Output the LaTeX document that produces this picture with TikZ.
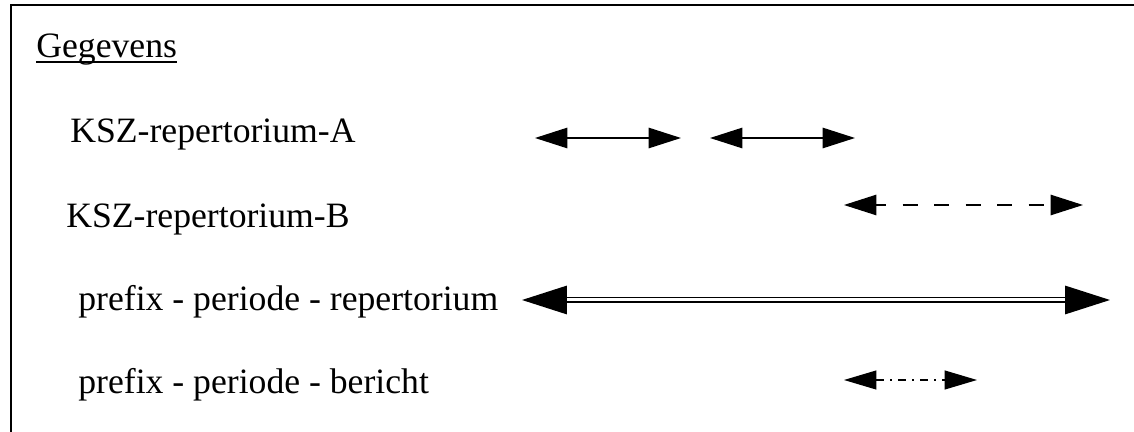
\documentclass[tikz,border=0pt]{standalone}
\usepackage{fontspec}
\setmainfont{Liberation Serif}
\usetikzlibrary{arrows.meta}
\begin{document}
\begin{tikzpicture}[x=0.02cm, y=-0.02cm,
        tekst/.style={anchor=base west, inner sep=0pt, font=\fontsize{20.3}{24}\selectfont},
        pijl/.style={{Triangle[length=0.65cm, width=0.41cm]}-{Triangle[length=0.65cm, width=0.41cm]}, line width=0.03cm},
        grotepijl/.style={{Triangle[length=0.9cm, width=0.57cm]}-{Triangle[length=0.9cm, width=0.57cm]}, line width=0.03cm, double, double distance=0.06cm}]
    \useasboundingbox (0,0) rectangle (1134,432);
    % kader
    \draw[line width=0.045cm] (11,432) -- (11,4.7) -- (1134,4.7);

    \node[tekst] (geg) at (36,58) {Gegevens};
    \draw[line width=0.03cm] ([yshift=-0.08cm]geg.base west) -- ([yshift=-0.08cm]geg.base east);

    \node[tekst] (ksza) at (70,143) {KSZ-repertorium-A};
    \node[tekst] (kszb) at (66,228) {KSZ-repertorium-B};
    \node[tekst] (ppr) at (78,311) {prefix - periode - repertorium};
    \node[tekst] (ppb) at (78,394) {prefix - periode - bericht};

    % eindpunten van de pijlen
    \coordinate (a1) at (535,138);
    \coordinate (a2) at (681,138);
    \coordinate (a3) at (710,138);
    \coordinate (a4) at (855,138);
    \coordinate (b1) at (844,205);
    \coordinate (b2) at (1083,205);
    \coordinate (r1) at (522,300);
    \coordinate (r2) at (1110,300);
    \coordinate (c1) at (844,380);
    \coordinate (c2) at (977,380);

    \draw[pijl] (a1) -- (a2);
    \draw[pijl] (a3) -- (a4);
    \draw[pijl, line width=0.025cm, dash pattern=on 0.3cm off 0.33cm, dash phase=0.1cm] (b1) -- (b2);
    \draw[grotepijl] (r1) -- (r2);
    \draw[pijl, line width=0.025cm, {Triangle[length=0.65cm, width=0.38cm]}-{Triangle[length=0.65cm, width=0.38cm]},
        dash pattern=on 0.16cm off 0.12cm on 0.04cm off 0.12cm] (c1) -- (c2);
\end{tikzpicture}
\end{document}
